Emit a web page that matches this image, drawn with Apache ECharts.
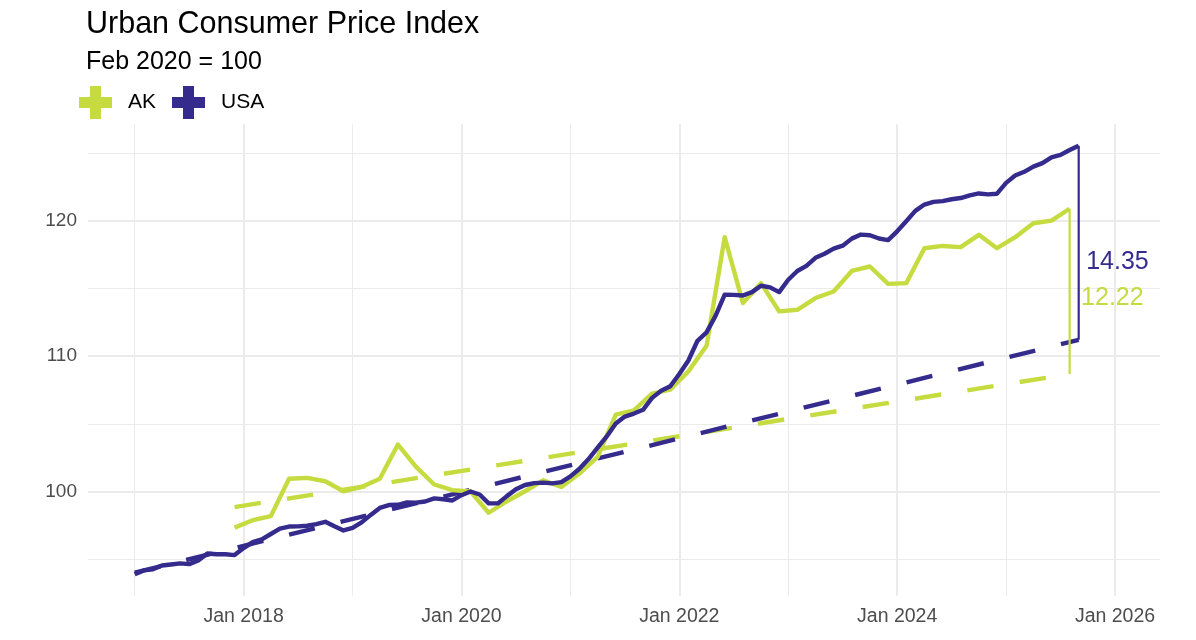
<!DOCTYPE html>
<html>
<head>
<meta charset="utf-8">
<script src="https://cdn.jsdelivr.net/npm/echarts@6/dist/echarts.min.js"></script>
<style>
html,body{margin:0;padding:0;background:#ffffff;}
#chart{width:1196px;height:640px;}
</style>
</head>
<body>
<div id="chart"></div>
<script>
// ---------------- DATA ----------------
// USA CPI, monthly, Feb 2020 = 100
const usaStart = '2017-01';
const usaValues = [
  93.88, 94.17, 94.25, 94.53, 94.61, 94.69, 94.63, 94.91, 95.42, 95.36, 95.36, 95.30,
  95.82, 96.26, 96.47, 96.86, 97.26, 97.41, 97.42, 97.47, 97.59, 97.76, 97.43, 97.12,
  97.31, 97.72, 98.27, 98.79, 99.00, 99.02, 99.19, 99.18, 99.26, 99.49, 99.43, 99.34,
  99.73, 100.00, 99.78, 99.12, 99.12, 99.66, 100.16, 100.48, 100.62, 100.66, 100.60, 100.69,
  101.12, 101.68, 102.40, 103.24, 104.07, 105.03, 105.54, 105.76, 106.04, 106.92, 107.45, 107.78,
  108.69, 109.68, 111.14, 111.76, 113.00, 114.55, 114.53, 114.49, 114.74, 115.21, 115.09, 114.74,
  115.65, 116.30, 116.68, 117.27, 117.57, 117.95, 118.17, 118.69, 118.99, 118.94, 118.70, 118.58,
  119.23, 119.97, 120.74, 121.21, 121.41, 121.46, 121.60, 121.69, 121.89, 122.03, 121.96, 122.01,
  122.81, 123.35, 123.63, 124.01, 124.27, 124.70, 124.88, 125.24, 125.56
];
// AK CPI, every second month starting Dec 2017
const akStart = '2017-12';
const akStepMonths = 2;
const akValues = [
  97.33,
  97.88, 98.18, 100.94, 101.01, 100.76, 100.02,
  100.34, 100.94, 103.47, 101.82, 100.52, 100.10,
  100.00, 98.43, 99.28, 100.02, 100.83, 100.34,
  101.33, 102.56, 105.68, 106.00, 107.23, 107.53,
  108.88, 110.77, 118.80, 113.93, 115.40, 113.31,
  113.43, 114.30, 114.78, 116.30, 116.63, 115.35,
  115.40, 117.98, 118.15, 118.06, 118.97, 117.98,
  118.80, 119.83, 120.02, 120.90
];
// Dashed trend lines: [date, value] at start and end
const usaTrend = [['2017-01', 94.00], ['2025-09', 111.21]];
const akTrend  = [['2017-12', 98.85], ['2025-08', 108.68]];
const seriesNames = ['AK', 'USA'];

// ---------------- HELPERS ----------------
function monthSeq(start, step, n) {
  const [y, m] = start.split('-').map(Number);
  const out = [];
  for (let i = 0; i < n; i++) {
    const t = y * 12 + (m - 1) + i * step;
    out.push(Math.floor(t / 12) + '-' + String(t % 12 + 1).padStart(2, '0'));
  }
  return out;
}
const toX = s => { const [y, m] = s.split('-').map(Number); return y + (m - 1) / 12; };
const pairs = (dates, vals) => dates.map((d, i) => [toX(d), vals[i]]);

const usaDates = monthSeq(usaStart, 1, usaValues.length);
const akDates = monthSeq(akStart, akStepMonths, akValues.length);

const usaLast = [toX(usaDates[usaDates.length - 1]), usaValues[usaValues.length - 1]];
const akLast = [toX(akDates[akDates.length - 1]), akValues[akValues.length - 1]];
const usaGap = (usaLast[1] - usaTrend[1][1]).toFixed(2);
const akGap = (akLast[1] - akTrend[1][1]).toFixed(2);

// ---------------- STYLE ----------------
const FONT = '"Liberation Sans", Arial, Helvetica, sans-serif';
const AK_COLOR = '#c6db3f';
const USA_COLOR = '#342b8d';
const GRID = '#ebebeb';
const PLUS = 'path://M11,0H22V11H33V22H22V33H11V22H0V11H11Z';
const DASH = [26.5, 26.5];
const LW = 4.4;
const labelPos = { USA: { y: 116.97, dist: 7 }, AK: { y: 114.31, dist: 11 } };

function gapSeries(name, color, x, from, to, text, pos) {
  return {
    name: name, type: 'line', symbol: 'none', z: 5, silent: true,
    data: [[x, from], [x, to]],
    lineStyle: { color: color, width: 2.2 },
    itemStyle: { color: color },
    markPoint: {
      symbol: 'circle', symbolSize: 1, silent: true,
      itemStyle: { color: 'rgba(0,0,0,0)' },
      label: {
        show: true, position: 'right', distance: pos.dist,
        formatter: text, color: color, fontFamily: FONT, fontSize: 25
      },
      data: [{ coord: [x, pos.y] }]
    }
  };
}

const chart = echarts.init(document.getElementById('chart'), null, { renderer: 'canvas' });
chart.setOption({
  animation: false,
  backgroundColor: '#ffffff',
  title: [
    { text: 'Urban Consumer Price Index', left: 86, top: 9, padding: 0,
      textStyle: { fontFamily: FONT, fontSize: 30.5, fontWeight: 'normal', color: '#000000' } },
    { text: 'Feb 2020 = 100', left: 86, top: 50, padding: 0,
      textStyle: { fontFamily: FONT, fontSize: 25, fontWeight: 'normal', color: '#000000' } }
  ],
  legend: {
    left: 79, top: 86, padding: 0, itemWidth: 33, itemHeight: 33, itemGap: 16,
    data: seriesNames.map(n => ({ name: n, icon: PLUS })),
    textStyle: { fontFamily: FONT, fontSize: 21, color: '#000000', padding: [0, 0, 0, 11] }
  },
  grid: { left: 88, right: 36, top: 124.3, bottom: 44.3, containLabel: false },
  xAxis: {
    type: 'value', min: 2016.5712, max: 2026.4131, minInterval: 2, maxInterval: 2,
    axisLine: { show: false }, axisTick: { show: false },
    axisLabel: { showMinLabel: false, showMaxLabel: false, margin: 11,
      formatter: v => 'Jan ' + Math.round(v), color: '#4d4d4d', fontFamily: FONT, fontSize: 19.5 },
    splitLine: { show: true, showMinLine: false, showMaxLine: false, lineStyle: { color: GRID, width: 2 } },
    minorTick: { show: false, splitNumber: 2 },
    minorSplitLine: { show: true, lineStyle: { color: GRID, width: 1 } }
  },
  yAxis: {
    type: 'value', min: 92.3, max: 127.14, minInterval: 10, maxInterval: 10,
    axisLine: { show: false }, axisTick: { show: false },
    axisLabel: { showMinLabel: false, showMaxLabel: false, margin: 11,
      color: '#4d4d4d', fontFamily: FONT, fontSize: 19 },
    splitLine: { show: true, showMinLine: false, showMaxLine: false, lineStyle: { color: GRID, width: 2 } },
    minorTick: { show: false, splitNumber: 2 },
    minorSplitLine: { show: true, lineStyle: { color: GRID, width: 1 } }
  },
  series: [
    { name: 'AK', type: 'line', symbol: 'none', z: 2, silent: true,
      data: akTrend.map(p => [toX(p[0]), p[1]]),
      lineStyle: { color: AK_COLOR, width: LW, type: DASH, cap: 'butt' }, itemStyle: { color: AK_COLOR } },
    { name: 'USA', type: 'line', symbol: 'none', z: 2, silent: true,
      data: usaTrend.map(p => [toX(p[0]), p[1]]),
      lineStyle: { color: USA_COLOR, width: LW, type: DASH, cap: 'butt' }, itemStyle: { color: USA_COLOR } },
    { name: 'AK', type: 'line', symbol: 'none', z: 3, silent: true,
      data: pairs(akDates, akValues),
      lineStyle: { color: AK_COLOR, width: LW, join: 'round' }, itemStyle: { color: AK_COLOR } },
    { name: 'USA', type: 'line', symbol: 'none', z: 4, silent: true,
      data: pairs(usaDates, usaValues),
      lineStyle: { color: USA_COLOR, width: LW, join: 'round' }, itemStyle: { color: USA_COLOR } },
    gapSeries('AK', AK_COLOR, akLast[0], akTrend[1][1], akLast[1], akGap, labelPos.AK),
    gapSeries('USA', USA_COLOR, usaLast[0], usaTrend[1][1], usaLast[1], usaGap, labelPos.USA)
  ]
});
</script>
</body>
</html>
